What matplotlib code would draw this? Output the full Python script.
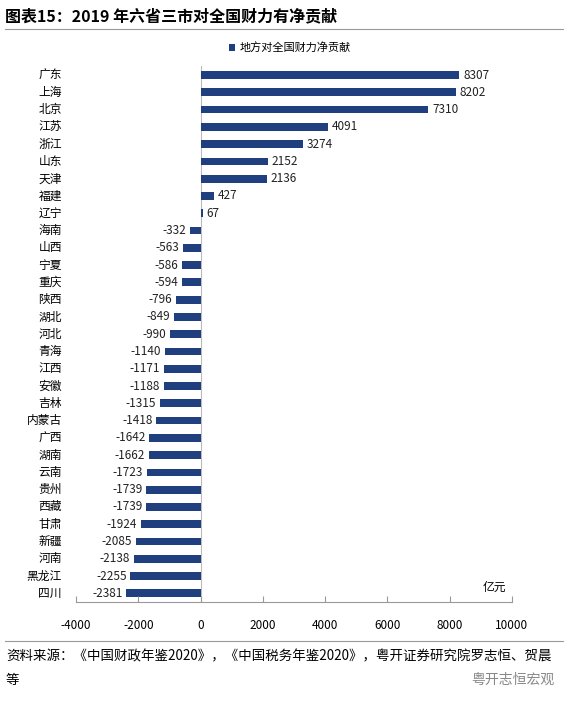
import matplotlib
matplotlib.use("Agg")
import matplotlib.pyplot as plt

plt.rcParams['font.family'] = ['Noto Sans CJK SC', 'DejaVu Sans']

provinces = ["广东","上海","北京","江苏","浙江","山东","天津","福建","辽宁","海南","山西","宁夏","重庆","陕西","湖北","河北","青海","江西","安徽","吉林","内蒙古","广西","湖南","云南","贵州","西藏","甘肃","新疆","河南","黑龙江","四川"]
values = [8307,8202,7310,4091,3274,2152,2136,427,67,-332,-563,-586,-594,-796,-849,-990,-1140,-1171,-1188,-1315,-1418,-1642,-1662,-1723,-1739,-1739,-1924,-2085,-2138,-2255,-2381]
xticks = [-4000,-2000,0,2000,4000,6000,8000,10000]

W, H = 568, 702
fig = plt.figure(figsize=(W/100, H/100), dpi=100)
ax = fig.add_axes([76/W, 1-602/H, (512-76)/W, (602-66.4)/H])
color = "#1F3F7F"
ypos = list(range(len(provinces)))
ax.barh(ypos, values, height=0.45, color=color, label="地方对全国财力净贡献")
ax.set_ylim(len(provinces)-0.5, -0.5)
ax.set_xlim(-4000, 10000)
ax.set_xticks(xticks)
ax.set_xticklabels([str(t) for t in xticks], fontsize=8.5)
ax.set_yticks([])
for y, v in zip(ypos, values):
    ax.text(v + (120 if v >= 0 else -120), y, str(v), va='center',
            ha='left' if v >= 0 else 'right', fontsize=8.5, color='#222222')
    ax.text(-4000 - 450, y, provinces[y], va='center', ha='right', fontsize=8.5, clip_on=False)
for s in ['top', 'right', 'left']:
    ax.spines[s].set_visible(False)
ax.spines['bottom'].set_color('#999999')
ax.axvline(0, color='#bbbbbb', lw=0.8, zorder=0)
ax.tick_params(axis='x', direction='in', length=4, color='#999999', pad=12)
ax.text(9800, len(provinces)-1, "亿元", ha='right', va='bottom', fontsize=8.5)

fig.text(5/W, 1-16/H, "图表15：2019 年六省三市对全国财力有净贡献", fontsize=11.5, fontweight='heavy', va='center', ha='left')
fig.add_artist(plt.Line2D([5/W, 563/W], [1-28.5/H, 1-28.5/H], color='#999999', lw=0.8))
fig.legend(loc='center', bbox_to_anchor=(290/W, 1-47.6/H), frameon=False, fontsize=8, handlelength=0.6, handleheight=0.6, handletextpad=0.4)

fig.add_artist(plt.Line2D([5/W, 563/W], [1-641/H, 1-641/H], color='#999999', lw=0.8))
fig.text(6/W, 1-656/H, "资料来源：《中国财政年鉴2020》，《中国税务年鉴2020》，粤开证券研究院罗志恒、贺晨",
         fontsize=9.7, style='italic', va='center', ha='left')
fig.text(6/W, 1-680/H, "等", fontsize=9.7, style='italic', va='center', ha='left')
fig.text(555/W, 1-680/H, "粤开志恒宏观", fontsize=10, color='#888888', va='center', ha='right')

fig.savefig("out.png", dpi=100)
